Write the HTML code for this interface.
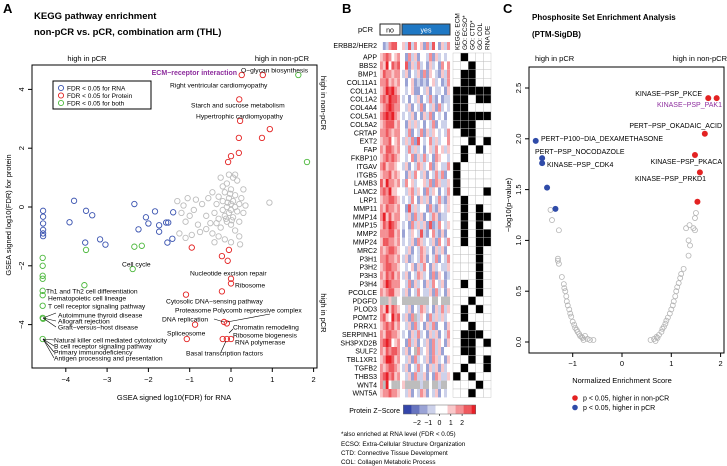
<!DOCTYPE html>
<html><head><meta charset="utf-8"><style>
body{margin:0;background:#fff}
svg{display:block;font-family:"Liberation Sans",Arial,sans-serif}
</style></head><body>
<svg id="fig" width="727" height="466" viewBox="0 0 727 466">
<g id="A">
<text x="3" y="13" font-size="13" font-weight="bold">A</text>
<text x="34" y="19" font-size="9.5" font-weight="bold">KEGG pathway enrichment</text>
<text x="34" y="35" font-size="9.5" font-weight="bold">non-pCR vs. pCR, combination arm (THL)</text>
<text x="87" y="61" font-size="7.5" text-anchor="middle">high in pCR</text>
<text x="282" y="61" font-size="7.5" text-anchor="middle">high in non-pCR</text>
<text transform="translate(321,103) rotate(90)" font-size="7.5" text-anchor="middle">high in non-pCR</text>
<text transform="translate(321,313) rotate(90)" font-size="7.5" text-anchor="middle">high in pCR</text>
<rect x="32" y="65" width="285" height="303" fill="none" stroke="#000" stroke-width="1"/>
<text x="174" y="400" font-size="7.5" text-anchor="middle">GSEA signed log10(FDR) for RNA</text>
<text transform="translate(11,215) rotate(-90)" font-size="7.5" text-anchor="middle">GSEA signed log10(FDR) for protein</text>
<g id="A-axes"></g><g id="A-pts"></g><g id="A-labels"></g>
<g>
<rect x="53" y="81" width="98" height="28" fill="#fff" stroke="#000" stroke-width="1"/>
<circle cx="61" cy="88" r="2.6" fill="none" stroke="#3a53b0" stroke-width="0.9"/>
<text x="67" y="90.5" font-size="6.5">FDR &lt; 0.05 for RNA</text>
<circle cx="61" cy="95.5" r="2.6" fill="none" stroke="#e32222" stroke-width="0.9"/>
<text x="67" y="98" font-size="6.5">FDR &lt; 0.05 for Protein</text>
<circle cx="61" cy="103" r="2.6" fill="none" stroke="#4cb83c" stroke-width="0.9"/>
<text x="67" y="105.5" font-size="6.5">FDR &lt; 0.05 for both</text>
</g>
</g>
<g id="B">
<text x="342" y="13" font-size="13" font-weight="bold">B</text>
<text x="373" y="32" font-size="7.5" text-anchor="end">pCR</text>
<rect x="380" y="24" width="20" height="11" fill="#fff" stroke="#222" stroke-width="1"/>
<text x="390" y="32.5" font-size="7" text-anchor="middle">no</text>
<rect x="402" y="24" width="48" height="11" fill="#1f78c4" stroke="#333" stroke-width="1"/>
<text x="426" y="32.5" font-size="7" fill="#fff" text-anchor="middle">yes</text>
<text x="377" y="48" font-size="7" text-anchor="end">ERBB2/HER2</text>
<g id="B-heat"></g><g id="B-ann"></g>
<text x="400" y="413" font-size="7" text-anchor="end">Protein Z−Score</text>
<g id="B-cbar"></g>
<text x="341" y="436" font-size="6.3">*also enriched at RNA level (FDR &lt; 0.05)</text>
<text x="341" y="446" font-size="6.3">ECSO: Extra-Cellular Structure Organization</text>
<text x="341" y="455" font-size="6.3">CTD:  Connective Tissue Development</text>
<text x="341" y="464" font-size="6.3">COL:  Collagen Metabolic Process</text>
</g>
<g id="C">
<text x="503" y="13" font-size="13" font-weight="bold">C</text>
<text x="532" y="20" font-size="8" font-weight="bold">Phosphosite Set Enrichment Analysis</text>
<text x="532" y="37" font-size="8" font-weight="bold">(PTM-SigDB)</text>
<text x="535" y="61" font-size="7.5">high in pCR</text>
<text x="727" y="61" font-size="7.5" text-anchor="end">high in non-pCR</text>
<rect x="529" y="67" width="195" height="286" fill="none" stroke="#000" stroke-width="1"/>
<text x="622" y="383" font-size="7.5" text-anchor="middle">Normalized Enrichment Score</text>
<text transform="translate(511,205) rotate(-90)" font-size="7.5" text-anchor="middle">−log10(p−value)</text>
<g id="C-axes"></g><g id="C-pts"></g><g id="C-labels"></g>
<circle cx="575" cy="398" r="2.8" fill="#e32222"/>
<text x="583" y="400.5" font-size="7">p &lt; 0.05, higher in non-pCR</text>
<circle cx="575" cy="407.5" r="2.8" fill="#2f4ba8"/>
<text x="583" y="410" font-size="7">p &lt; 0.05, higher in pCR</text>
</g>
</svg>
<script>
const NS="http://www.w3.org/2000/svg";
// ---------- Panel A data ----------
const aXTicks=[-4,-3,-2,-1,0,1,2];
const aYTicks=[-4,-2,0,2,4];
const aRed=[[0.26,4.49],[0.77,4.49],[0.2,3.66],[0.22,2.93],[0.19,2.35],[0.75,2.35],[0.94,2.65],[0.19,1.84],[0,1.73],[-0.07,1.53],[-0.95,-1.38],[-0.22,-1.67],[-0.05,-1.46],[-0.08,-1.83],[0,-2.44],[0,-2.6],[-0.22,-2.87],[-1.09,-2.98],[-0.17,-3.91],[-0.1,-3.96],[-0.87,-4.0],[-1.07,-4.49],[-0.2,-4.49],[-0.1,-4.49],[0,-4.49]];
const aGreen=[[1.63,4.49],[1.84,1.53],[-4.56,-1.73],[-4.56,-2.0],[-4.56,-2.34],[-4.56,-2.44],[-4.56,-2.85],[-4.56,-3.0],[-4.56,-3.36],[-4.56,-3.77],[-4.55,-3.8],[-4.56,-4.49],[-3.55,-2.66],[-2.38,-2.11],[-3.51,-1.46],[-2.34,-1.35],[-2.16,-1.32]];
const aBlue=[[-4.55,-0.13],[-4.55,-0.33],[-4.55,-0.56],[-4.55,-0.78],[-4.55,-0.9],[-4.55,-0.99],[-3.8,0.21],[-3.91,-0.52],[-3.51,-0.13],[-3.36,-0.28],[-3.17,-1.1],[-2.34,0.1],[-1.84,-0.15],[-2.06,-0.35],[-2.0,-0.56],[-2.24,-0.76],[-1.74,-0.62],[-1.74,-0.84],[-1.57,-0.53],[-1.52,-0.53],[-1.4,-0.18],[-1.42,-1.08],[-3.53,-1.21],[-3.04,-1.28],[-1.54,-1.21]];
const aGray=[[-1.2,-0.2],[-1.1,-0.5],[-1.0,-0.3],[-0.9,-0.1],[-0.8,-0.6],[-1.25,-0.9],[-1.1,-1.05],[-0.95,-0.95],[-0.75,-0.85],[-0.6,-0.75],[-0.5,-0.55],[-0.45,-0.9],[-0.4,-0.2],[-0.35,0.1],[-0.3,-0.4],[-0.3,0.35],[-0.25,-0.7],[-0.2,-0.1],[-0.2,0.2],[-0.15,-0.3],[-0.15,0.5],[-0.1,0.0],[-0.1,-0.5],[-0.1,0.8],[-0.05,0.3],[-0.05,-0.2],[0,0.1],[0,-0.1],[0,0.6],[0,-0.6],[0.05,0.2],[0.05,-0.35],[0.05,1.0],[0.1,0.0],[0.1,-0.8],[0.1,0.4],[0.15,0.9],[0.15,-0.15],[0.2,0.1],[0.2,-0.5],[0.25,0.3],[0.3,-0.2],[0.35,0.05],[-0.55,0.3],[-0.7,0.1],[-0.45,0.5],[-1.3,0.2],[-1.15,0.05],[-0.85,0.25],[-0.25,1.0],[-0.05,1.1],[0.1,1.1],[-0.3,-1.0],[-0.15,-1.1],[0,-1.2],[-0.4,-1.2],[0.2,-1.0],[0.93,0.15],[0.22,-1.27],[-0.02,0.45],[-0.08,0.15],[-0.12,-0.4],[0.02,-0.45],[-0.2,0.7],[-0.6,-0.3],[-1.05,0.3],[0.3,0.6],[-0.35,-0.55]];
const aLabels=[["O−glycan biosynthesis",241,70,"start"],["Right ventricular cardiomyopathy",170,85,"start"],["Starch and sucrose metabolism",191,105,"start"],["Hypertrophic cardiomyopathy",196,116,"start"],["Cell cycle",122,264,"start"],["Nucleotide excision repair",190,273,"start"],["Ribosome",235,285,"start"],["Cytosolic DNA−sensing pathway",166,301,"start"],["Proteasome Polycomb repressive complex",175,310,"start"],["DNA replication",162,319,"start"],["Chromatin remodeling",233,327,"start"],["Ribosome biogenesis",233,335,"start"],["Spliceosome",167,333,"start"],["RNA polymerase",235,342,"start"],["Basal transcription factors",186,353,"start"],["Th1 and Th2 cell differentiation",46,291,"start"],["Hematopoietic cell lineage",48,298,"start"],["T cell receptor signaling pathway",48,306,"start"],["Autoimmune thyroid disease",58,315,"start"],["Allograft rejection",58,321,"start"],["Graft−versus−host disease",58,327,"start"],["Natural killer cell mediated cytotoxicity",54,340,"start"],["B cell receptor signaling pathway",54,346,"start"],["Primary immunodeficiency",54,352,"start"],["Antigen processing and presentation",54,358,"start"]];
// ---------- Panel B data ----------
const genes=["APP","BBS2","BMP1","COL11A1","COL1A1","COL1A2","COL4A4","COL5A1","COL5A2","CRTAP","EXT2","FAP","FKBP10","ITGAV","ITGB5","LAMB3","LAMC2","LRP1","MMP11","MMP14","MMP15","MMP2","MMP24","MRC2","P3H1","P3H2","P3H3","P3H4","PCOLCE","PDGFD","PLOD3","POMT2","PRRX1","SERPINH1","SH3PXD2B","SULF2","TBL1XR1","TGFB2","THBS3","WNT4","WNT5A"];
const erbb2Row="4236774 5373645263742536";
const zRows=["5676456 4263524436253434","6584767 4725363425342646","5766566 3524352625432536","6675656 4245232324534236","5687865 4345224352433425","6768776 3424352436324233","5678766 4352436243526343","6787865 3435242536243424","5677756 4253534243624334","6676566 4362436253543436","5667456 3536274346353446","6577656 4363534245364535","5676765 4346253634265443","6756654 3524365346254336","5667565 4253643524363624","7586656 3645344536265335","6768554 4356354263542436","5667765 3436425352436325","6576656 4273534426325435","6857566 4352635243652334","5768765 3426353527236435","6667756 2435437324632524","5776656 3435265343526436","6567765 4352436534253524","6676656 3523436524362436","5677665 4345253642534335","6576756 3524365342625423","5687666 4362534253643524","6567755 3524364335263425","xxx5xx4 xxxxxxxxx4xx4xxx","6585765 4352436534253635","6754867 3526x35426353534","5676756 4352634253624425","6577665 3425363425352436","6787456 4263524352635425","6576776 3524x6345263524","5688756 4352634352653425","6567765 3524363425352534","6786756 4352633524265335","6x84xxx 5xxxxx3xx4xx3xx4","5667665 4352436524352434"];
const annCols=["KEGG: ECM","GO: ECSO*","GO: CTD*","GO: COL","RNA DE"];
const annRows=["01000","00100","01100","01100","11111","11011","11000","11111","11100","01100","00101","01010","01000","10000","10000","10000","10001","01000","01010","01011","01010","01011","01011","00010","00010","00010","00010","01010","00010","00100","01010","01000","00100","01110","01101","01100","00101","01001","10100","00010","00100"];
const cbarTicks=[-2,-1,0,1,2];
// ---------- Panel C data ----------
const cXTicks=[-1,0,1,2];
const cYTicks=[0,0.5,1,1.5,2,2.5];
const cRed=[[1.75,2.4],[1.92,2.4],[1.68,2.05],[1.48,1.84],[1.58,1.67],[1.53,1.38]];
const cBlue=[[-1.75,1.98],[-1.62,1.81],[-1.62,1.76],[-1.52,1.52],[-1.35,1.31]];
const cGray=[[-1.45,1.3],[-1.42,1.2],[-1.28,1.1],[-1.3,0.82],[-1.3,0.8],[-1.28,0.77],[-1.22,0.64],[-1.18,0.57],[-1.17,0.53],[-1.15,0.5],[-1.13,0.45],[-1.12,0.4],[-1.1,0.36],[-1.07,0.32],[-1.05,0.28],[-1.03,0.25],[-1.0,0.2],[-0.97,0.17],[-0.95,0.14],[-0.92,0.12],[-0.9,0.1],[-0.87,0.08],[-0.85,0.06],[-0.82,0.05],[-0.8,0.04],[-0.78,0.02],[-0.7,0.03],[-0.65,0.02],[-0.58,0.02],[-0.75,0.06],[0.58,0.02],[0.65,0.03],[0.7,0.05],[0.75,0.07],[0.8,0.1],[0.82,0.13],[0.85,0.15],[0.88,0.18],[0.9,0.21],[0.93,0.24],[0.97,0.28],[1.0,0.32],[1.03,0.36],[1.05,0.4],[1.08,0.45],[1.1,0.5],[1.12,0.54],[1.15,0.58],[1.18,0.63],[1.2,0.67],[1.25,0.72],[1.35,0.85],[1.38,0.95],[1.35,1.0],[1.3,1.12],[1.37,1.15],[1.45,1.12],[1.48,1.1],[1.48,1.22],[1.5,1.27],[0.68,0.01],[0.72,0.04]];
const cLabels=[["KINASE−PSP_PKCE",702,96,"#000"],["KINASE−PSP_PAK1",722,107,"#8e2e9e"],["PERT−PSP_OKADAIC_ACID",722,128,"#000"],["PERT−P100−DIA_DEXAMETHASONE",541,141,"#000","start"],["PERT−PSP_NOCODAZOLE",535,154,"#000","start"],["KINASE−PSP_CDK4",547,167,"#000","start"],["KINASE−PSP_PKACA",722,164,"#000"],["KINASE−PSP_PRKD1",706,181,"#000"]];

function el(tag,attrs,parent,txt){const e=document.createElementNS(NS,tag);for(const k in attrs)e.setAttribute(k,attrs[k]);if(txt!==undefined)e.textContent=txt;parent.appendChild(e);return e;}
// Panel A axes
const ax=v=>231+v*41.3, ay=v=>207-v*29.4;
const gA=document.getElementById('A-axes');
aXTicks.forEach(t=>{el('line',{x1:ax(t),x2:ax(t),y1:368,y2:372,stroke:'#000'},gA);const tx=el('text',{x:ax(t),y:382,'font-size':7.5,'text-anchor':'middle'},gA,(t<0?'−':'')+Math.abs(t));});
aYTicks.forEach(t=>{el('line',{x1:28,x2:32,y1:ay(t),y2:ay(t),stroke:'#000'},gA);const tx=el('text',{transform:`translate(24,${ay(t)}) rotate(-90)`,'font-size':7.5,'text-anchor':'middle'},gA,(t<0?'−':'')+Math.abs(t));});
const pA=document.getElementById('A-pts');
function ptsA(arr,col,name){arr.forEach(p=>{const c=el('circle',{cx:ax(p[0]),cy:ay(p[1]),r:2.7,fill:'none',stroke:col,'stroke-width':0.9},pA);});}
ptsA(aGray,'#bdbdbd','pathway-point-ns');ptsA(aBlue,'#3a53b0','pathway-point-rna');ptsA(aRed,'#e32222','pathway-point-protein');ptsA(aGreen,'#4cb83c','pathway-point-both');
const lA=document.getElementById('A-labels');
{const t=el('text',{x:237,y:75,'font-size':7,'font-weight':'bold',fill:'#8e2e9e','text-anchor':'end'},lA,'ECM−receptor interaction');}
aLabels.forEach(l=>{const t=el('text',{x:l[1],y:l[2]+2.4,'font-size':6.7,'text-anchor':l[3]},lA,l[0]);});
[[43,318,56,313],[43,318,56,321],[43,318,56,327],[43,339,54,340],[43,339,54,346],[43,339,54,352],[43,339,54,358],[227,322,270,314],[214,319,224,322],[233,329,229,333],[226,341,221,352]].forEach(s=>el('line',{x1:s[0],y1:s[1],x2:s[2],y2:s[3],stroke:'#000','stroke-width':0.6},lA));
// Panel B heatmap
function zcol(c){if(c==='x')return '#bdbdbd';const v=(+c-4)/4;const blue=[52,70,170],red=[232,32,40];const t=Math.abs(v);const b=v<0?blue:red;const m=[0,1,2].map(i=>Math.round(255+(b[i]-255)*t));return `rgb(${m})`;}
const gH=document.getElementById('B-heat');
const rowH=8.4, top0=53;
function cellX(j){return j<7?380+j*2.85:402+(j-7)*3;}
function drawRow(str,y,h,name){const s=str.replace(' ','');for(let j=0;j<s.length;j++){const r=el('rect',{x:cellX(j),y:y,width:3.05,height:h,fill:zcol(s[j])},gH);}}
drawRow(erbb2Row,42,8,'erbb2-cell');
genes.forEach((g,i)=>{const y=top0+i*rowH;drawRow(zRows[i],y,rowH,'heatmap-cell');const t=el('text',{x:377,y:y+rowH/2+2.5,'font-size':7,'text-anchor':'end'},gH,g);});
el('line',{x1:400.8,x2:400.8,y1:42,y2:top0+genes.length*rowH,stroke:'#fff','stroke-width':1.5},gH);
// annotation
const gN=document.getElementById('B-ann');const aw=7.6,ax0=453;
genes.forEach((g,i)=>{for(let c=0;c<5;c++){const r=el('rect',{x:ax0+c*aw,y:top0+i*rowH,width:aw,height:rowH,fill:annRows[i][c]==='1'?'#000':'#fff',stroke:'#bbb','stroke-width':0.4},gN);}});
annCols.forEach((a,c)=>{const t=el('text',{transform:`translate(${ax0+c*aw+aw/2+2.5},50) rotate(-90)`,'font-size':6.5},gN,a);});
// colorbar
const gC=document.getElementById('B-cbar');const cx=v=>439.5+v*11.3;
for(let k=0;k<18;k++){const v=-3.2+k*6.4/18;el('rect',{x:cx(v),y:405,width:6.4*11.3/18+0.3,height:9,fill:zcol(String(Math.max(0,Math.min(8,Math.round(4+v*1.25)))))},gC);}
el('rect',{x:cx(-3.2),y:405,width:6.4*11.3,height:9,fill:'none',stroke:'#666','stroke-width':0.5},gC);
cbarTicks.forEach(t=>{el('line',{x1:cx(t),x2:cx(t),y1:414,y2:416,stroke:'#000','stroke-width':0.6},gC);const tx=el('text',{x:cx(t),y:425,'font-size':7,'text-anchor':'middle'},gC,(t<0?'−':'')+Math.abs(t));});
// Panel C
const csx=v=>622+v*49.3, csy=v=>342-v*101.6;
const gCa=document.getElementById('C-axes');
cXTicks.forEach(t=>{el('line',{x1:csx(t),x2:csx(t),y1:353,y2:357,stroke:'#000'},gCa);const tx=el('text',{x:csx(t),y:366,'font-size':7.5,'text-anchor':'middle'},gCa,(t<0?'−':'')+Math.abs(t));});
cYTicks.forEach(t=>{el('line',{x1:525,x2:529,y1:csy(t),y2:csy(t),stroke:'#000'},gCa);const tx=el('text',{transform:`translate(521,${csy(t)}) rotate(-90)`,'font-size':7.5,'text-anchor':'middle'},gCa,t.toFixed(1));});
const pC=document.getElementById('C-pts');
cGray.forEach(p=>{const c=el('circle',{cx:csx(p[0]),cy:csy(p[1]),r:2.5,fill:'none',stroke:'#b5b5b5','stroke-width':0.8},pC);});
cRed.forEach(p=>{const c=el('circle',{cx:csx(p[0]),cy:csy(p[1]),r:3,fill:'#e32222'},pC);});
cBlue.forEach(p=>{const c=el('circle',{cx:csx(p[0]),cy:csy(p[1]),r:3,fill:'#2f4ba8'},pC);});
const lC=document.getElementById('C-labels');
cLabels.forEach(l=>{const t=el('text',{x:l[1],y:l[2],'font-size':7,fill:l[3],'text-anchor':l[4]||'end'},lC,l[0]);});
</script>
</body></html>
